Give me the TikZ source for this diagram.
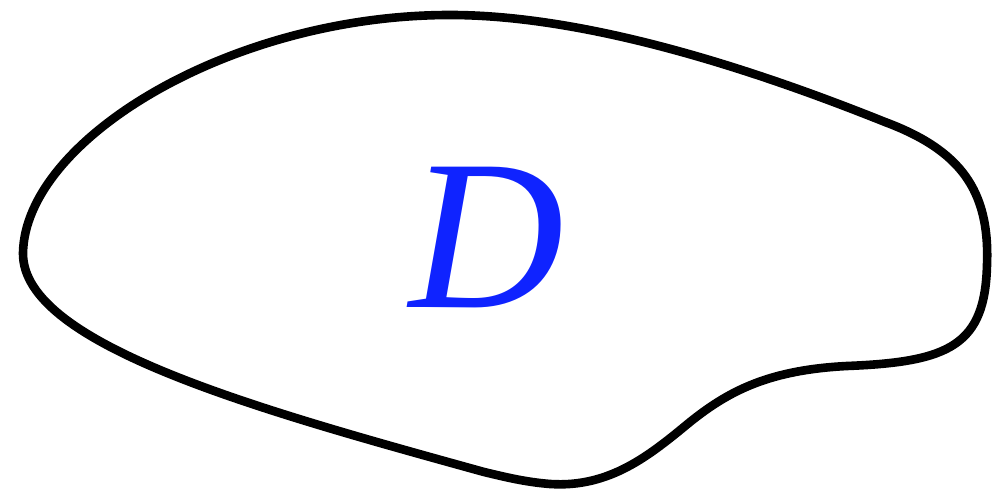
\documentclass[tikz,border=0pt]{standalone}
\usepackage{fontspec}
\setmainfont{Liberation Serif}
\usepackage{tikz}
\usetikzlibrary{positioning}
\definecolor{domblue}{RGB}{15,35,255}
\tikzset{
  rim/.style={draw=black, line width=4.9pt, line join=round},
  lbl/.style={text=domblue, font=\fontsize{122}{124}\selectfont\itshape, inner sep=0pt},
}
\begin{document}
\begin{tikzpicture}[x=0.02cm, y=-0.02cm]
\useasboundingbox (0,0) rectangle (995,499);
\draw[rim] (484,472) .. controls (260,410) and (22,345) .. (23,253)
  .. controls (25,140) and (230,15) .. (450,15)
  .. controls (600,15) and (780,80) .. (885,122)
  .. controls (960,150) and (990,190) .. (987,265)
  .. controls (985,345) and (950,362) .. (847,366)
  .. controls (770,370) and (730,390) .. (690,422)
  .. controls (650,455) and (610,488) .. (550,484)
  .. controls (525,482) and (505,477) .. cycle;
\node[lbl] (dom) at (487,238) {D};
\end{tikzpicture}
\end{document}
